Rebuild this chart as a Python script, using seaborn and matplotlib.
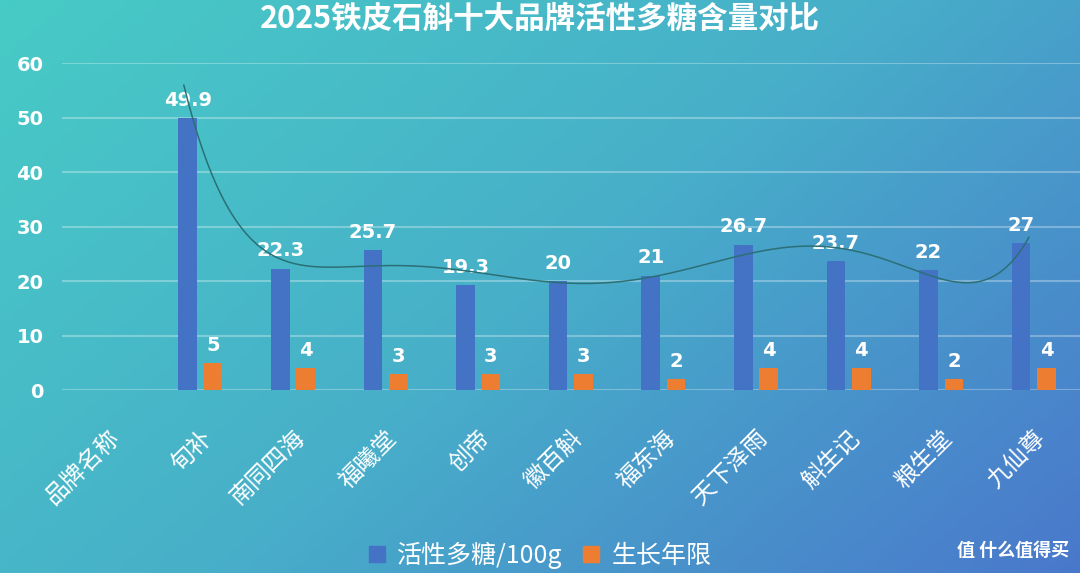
import numpy as np
import pandas as pd
import seaborn as sns
import matplotlib.pyplot as plt
from matplotlib.colors import LinearSegmentedColormap
from matplotlib.patches import Patch

# data
brands = ["品牌名称", "旬补", "南同四海", "福曦堂", "创帝", "徽百斛",
          "福东海", "天下泽雨", "斛生记", "粮生堂", "九仙尊"]
polysaccharide = [np.nan, 49.9, 22.3, 25.7, 19.3, 20, 21, 26.7, 23.7, 22, 27]
growth_years = [np.nan, 5, 4, 3, 3, 3, 2, 4, 4, 2, 4]
series_names = ["活性多糖/100g", "生长年限"]
colors = ["#4472C4", "#ED7D31"]

df = pd.DataFrame({
    "品牌": brands * 2,
    "值": polysaccharide + growth_years,
    "系列": [series_names[0]] * len(brands) + [series_names[1]] * len(brands),
}).dropna()

sns.set_theme(style="white")
plt.rcParams["font.family"] = ["Noto Sans CJK SC", "DejaVu Sans"]
plt.rcParams["axes.unicode_minus"] = False

fig = plt.figure(figsize=(10.8, 5.73), dpi=100)

# gradient background
bg = fig.add_axes([0, 0, 1, 1], zorder=-10)
cmap = LinearSegmentedColormap.from_list("bg", ["#47CBC6", "#47AFC9", "#4A78CC"])
xx, yy = np.meshgrid(np.linspace(0, 1, 400), np.linspace(0, 1, 200))
grad = 0.62 * xx + 0.38 * yy
bg.imshow(grad, cmap=cmap, extent=[0, 1, 0, 1], aspect="auto", origin="upper")
bg.set_axis_off()

ax = fig.add_axes([0.057, 0.319, 0.943, 0.571])
ax.patch.set_alpha(0)

sns.barplot(data=df, x="品牌", y="值", hue="系列", order=brands,
            hue_order=series_names, palette=colors, width=0.55, gap=0.27,
            saturation=1, linewidth=0, ax=ax, legend=False)

for cont, vals in zip(ax.containers, [polysaccharide, growth_years]):
    labels = [f"{v:g}" for v in vals if not np.isnan(v)]
    ax.bar_label(cont, labels=labels, padding=6, color="white",
                 fontsize=14, fontweight="bold", family="DejaVu Sans")

# polynomial trendline of the polysaccharide series
xs = np.arange(1, len(brands))
ys = np.array(polysaccharide[1:])
coef = np.polyfit(xs, ys, 6)
xf = np.linspace(0.9, len(brands) - 0.97, 300)
ax.plot(xf - 0.08, np.polyval(coef, xf), color="#2B7076", lw=1.1, zorder=5)

ax.set_ylim(0, 60)
ax.set_xlim(-0.5, len(brands) - 0.5)
ax.set_yticks(range(0, 61, 10))
ax.yaxis.grid(True, color="white", alpha=0.3, lw=1.5)
ax.set_axisbelow(True)
for s in ax.spines.values():
    s.set_visible(False)
ax.set_xlabel("")
ax.set_ylabel("")
ax.tick_params(axis="y", colors="white", length=0, pad=13)
ax.tick_params(axis="x", colors="white", length=0, pad=26)
for lab in ax.get_yticklabels():
    lab.set_fontweight("bold")
    lab.set_fontsize(14)
    lab.set_family("DejaVu Sans")
for lab in ax.get_xticklabels():
    lab.set_fontsize(17)
plt.setp(ax.get_xticklabels(), rotation=45, ha="right", va="top",
         rotation_mode="anchor")

fig.text(0.5, 0.968, "2025铁皮石斛十大品牌活性多糖含量对比", ha="center",
         va="center", color="white", fontsize=22, fontweight="bold")

handles = [Patch(color=c, label=n) for c, n in zip(colors, series_names)]
fig.legend(handles=handles, loc="center", bbox_to_anchor=(0.5, 0.031), ncol=2,
           frameon=False, fontsize=18, labelcolor="white", handlelength=0.65,
           handleheight=0.65, handletextpad=0.5, columnspacing=0.8)

fig.text(0.99, 0.04, "值 什么值得买", ha="right", va="center", color="white",
         fontsize=13, fontweight="bold")

fig.savefig("out.png", dpi=100)
